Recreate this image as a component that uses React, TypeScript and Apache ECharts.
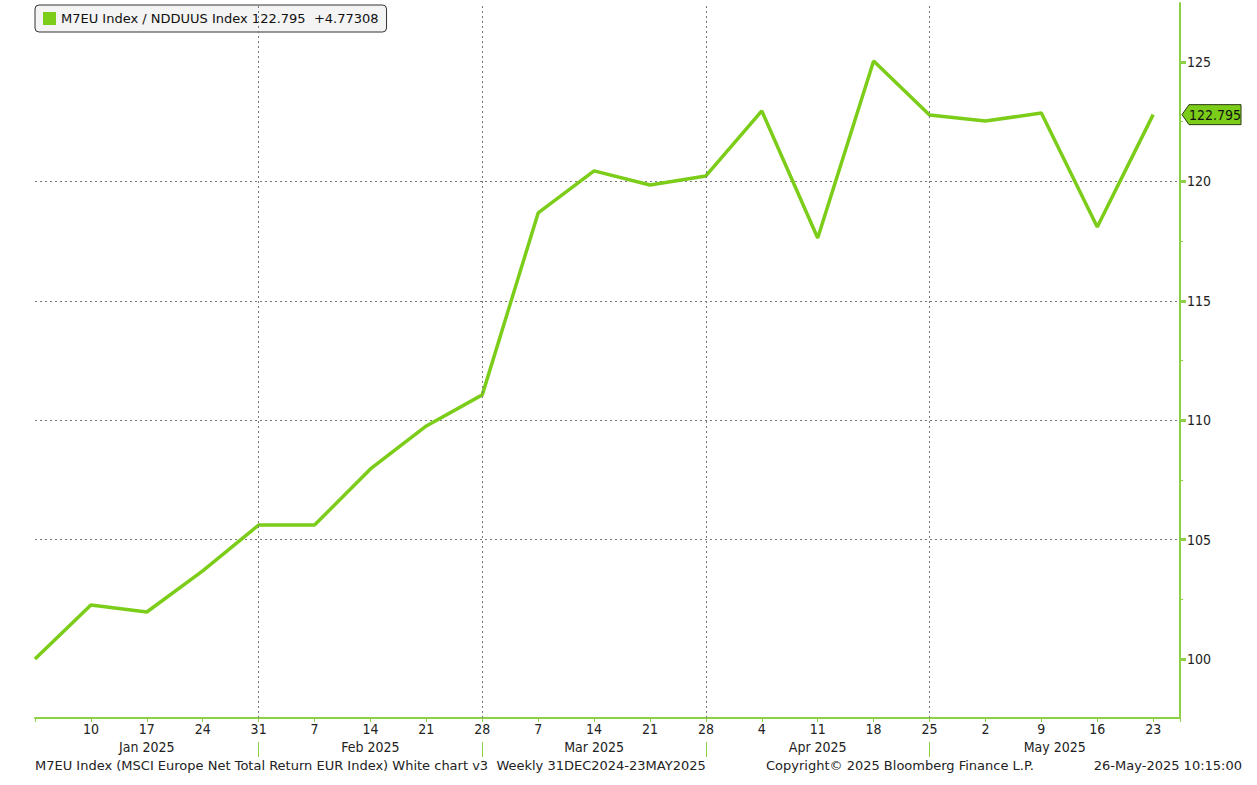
import React, { useEffect, useRef } from "react";
import * as echarts from "echarts";

const weekDates = [
  "2025-01-03", "2025-01-10", "2025-01-17", "2025-01-24", "2025-01-31",
  "2025-02-07", "2025-02-14", "2025-02-21", "2025-02-28",
  "2025-03-07", "2025-03-14", "2025-03-21", "2025-03-28",
  "2025-04-04", "2025-04-11", "2025-04-18", "2025-04-25",
  "2025-05-02", "2025-05-09", "2025-05-16", "2025-05-23",
];
const dayLabels = ["", "10", "17", "24", "31", "7", "14", "21", "28", "7", "14", "21", "28", "4", "11", "18", "25", "2", "9", "16", "23"];
const ratioValues = [
  100.0, 102.26, 101.97, 103.69, 105.61, 105.61, 107.96, 109.76, 111.06,
  118.68, 120.44, 119.85, 120.23, 122.95, 117.63, 125.04, 122.78,
  122.53, 122.86, 118.09, 122.795,
];
const monthNames = ["Jan 2025", "Feb 2025", "Mar 2025", "Apr 2025", "May 2025"];
const monthCenters = [2, 6, 10, 14, 18.24];
const monthEnds = [4, 8, 12, 16];
const yTicks = [100, 105, 110, 115, 120, 125];

const seriesName = "M7EU Index / NDDUUS Index";
const lastValue = "122.795";
const change = "+4.77308";

const GREEN = "#7ccd1a";
const AXIS_GREEN = "#8dcf45";
const FONT = "'DejaVu Sans Condensed', 'DejaVu Sans', sans-serif";
const WFONT = "'DejaVu Sans', sans-serif";

export default function App() {
  const ref = useRef<HTMLDivElement>(null);
  useEffect(() => {
    if (!ref.current) return;
    const chart = echarts.init(ref.current, null, { renderer: "svg" });
    const data = ratioValues.map((v, i) => [i, v]);
    chart.setOption({
      animation: false,
      backgroundColor: "#ffffff",
      textStyle: { fontFamily: FONT },
      grid: { left: 35, right: 77, top: 3, bottom: 67, containLabel: false },
      legend: {
        left: 35,
        top: 5,
        data: [seriesName],
        icon: "rect",
        itemWidth: 13,
        itemHeight: 13,
        itemGap: 5,
        padding: [7, 8, 7, 8],
        backgroundColor: "rgba(242,242,242,0.85)",
        borderColor: "#333",
        borderWidth: 1,
        borderRadius: 4,
        selectedMode: false,
        formatter: (n: string) => `${n} ${lastValue}  ${change}`,
        textStyle: { fontSize: 13, color: "#111", fontFamily: WFONT },
      },
      xAxis: [
        {
          type: "value",
          min: 0,
          max: 20.48,
          interval: 1,
          axisLine: { show: true, onZero: false, lineStyle: { color: AXIS_GREEN, width: 2 } },
          axisTick: { show: true, length: 4, lineStyle: { color: AXIS_GREEN, width: 1 } },
          axisLabel: {
            margin: 4,
            fontSize: 14,
            color: "#222",
            fontFamily: FONT,
            showMinLabel: true,
            showMaxLabel: true,
            formatter: (v: number) => (Number.isInteger(v) ? dayLabels[v] ?? "" : ""),
          },
          splitLine: { show: false },
        },
        {
          type: "value",
          position: "bottom",
          offset: 24,
          min: 0,
          max: 20.48,
          axisLine: { show: false, onZero: false },
          axisTick: {
            show: true,
            length: 15,
            customValues: monthEnds,
            lineStyle: { color: AXIS_GREEN, width: 1 },
          },
          axisLabel: {
            margin: -2,
            fontSize: 14,
            color: "#222",
            fontFamily: FONT,
            customValues: monthCenters,
            formatter: (v: number) => {
              const k = monthCenters.indexOf(v);
              return k >= 0 ? monthNames[k] : "";
            },
          },
          splitLine: { show: false },
        },
      ],
      yAxis: {
        type: "value",
        position: "right",
        min: 97.53,
        max: 127.47,
        splitNumber: 6,
        axisLine: { show: true, onZero: false, lineStyle: { color: AXIS_GREEN, width: 2 } },
        axisTick: { show: true, length: 6, lineStyle: { color: AXIS_GREEN, width: 3 }, customValues: yTicks },
        minorTick: { show: true, splitNumber: 2, length: 3, lineStyle: { color: AXIS_GREEN, width: 1 } },
        axisLabel: {
          margin: 7,
          fontSize: 14,
          color: "#222",
          fontFamily: FONT,
          customValues: yTicks,
          formatter: (v: number) => (yTicks.includes(v) ? String(v) : ""),
        },
        splitLine: {
          show: true,
          showMinLine: false,
          showMaxLine: false,
          lineStyle: { color: "#777", type: [2, 3], width: 1 },
        },
      },
      series: [
        {
          name: seriesName,
          type: "line",
          data,
          symbol: "none",
          color: GREEN,
          lineStyle: { color: GREEN, width: 3.5 },
          xAxisIndex: 0,
          markLine: {
            silent: true,
            symbol: ["none", "none"],
            label: { show: false },
            lineStyle: { color: "#777", type: [2, 3], width: 1 },
            data: monthEnds.map((m) => ({ xAxis: m })),
          },
        },
      ],
    });

    const yPix = chart.convertToPixel({ yAxisIndex: 0 }, ratioValues[ratioValues.length - 1]) as number;
    const xAxisPix = chart.convertToPixel({ xAxisIndex: 0 }, 20.48) as number;
    const x0 = xAxisPix + 2;
    const h = 20;
    chart.setOption({
      graphic: [
        {
          type: "polygon",
          shape: {
            points: [
              [x0, yPix],
              [x0 + 7, yPix - h / 2],
              [x0 + 59, yPix - h / 2],
              [x0 + 59, yPix + h / 2],
              [x0 + 7, yPix + h / 2],
            ],
          },
          style: { fill: GREEN, stroke: "#2a3a10", lineWidth: 1 },
          z: 100,
        },
        {
          type: "text",
          x: x0 + 33,
          y: yPix,
          style: {
            text: lastValue,
            fill: "#111",
            font: `14px ${FONT}`,
            align: "center",
            verticalAlign: "middle",
          },
          z: 101,
        },
        {
          type: "text",
          left: 35,
          top: 759,
          style: {
            text: "M7EU Index (MSCI Europe Net Total Return EUR Index) White chart v3  Weekly 31DEC2024-23MAY2025",
            fill: "#222",
            font: `13px ${WFONT}`,
          },
        },
        {
          type: "text",
          left: 766,
          top: 759,
          style: { text: "Copyright\u00a9 2025 Bloomberg Finance L.P.", fill: "#222", font: `13px ${WFONT}` },
        },
        {
          type: "text",
          right: 15,
          top: 759,
          style: { text: "26-May-2025 10:15:00", fill: "#222", font: `13px ${WFONT}` },
        },
      ],
    });
    return () => chart.dispose();
  }, []);
  return (
    <div
      ref={ref}
      style={{ position: "fixed", left: 0, top: 0, width: 1257, height: 785 }}
    />
  );
}
